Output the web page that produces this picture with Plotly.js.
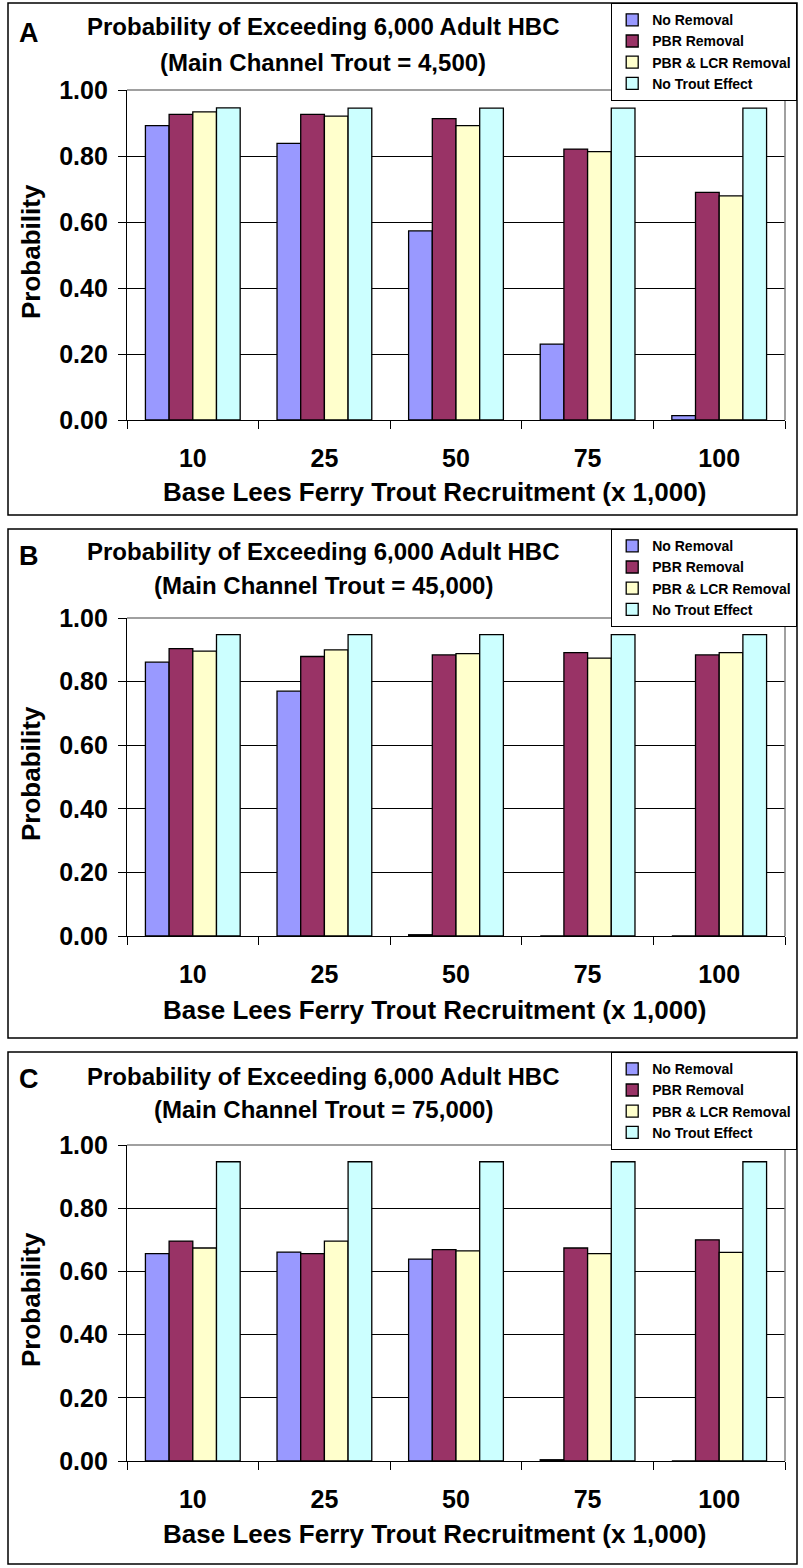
<!DOCTYPE html>
<html>
<head>
<meta charset="utf-8">
<script src="https://cdn.plot.ly/plotly-3.0.1.min.js"></script>
<style>
  html, body { margin: 0; padding: 0; background: #ffffff; }
  #chart { width: 803px; height: 1568px; }
</style>
</head>
<body>
<div id="chart"></div>
<script>
// ---------------- DATA ----------------
const categories = ['10', '25', '50', '75', '100'];
const seriesNames = ['No Removal', 'PBR Removal', 'PBR & LCR Removal', 'No Trout Effect'];
const panelLetters = ['A', 'B', 'C'];
const titleLine1 = 'Probability of Exceeding 6,000 Adult HBC';
const titleLine2 = ['(Main Channel Trout = 4,500)', '(Main Channel Trout = 45,000)', '(Main Channel Trout = 75,000)'];
const xTitle = 'Base Lees Ferry Trout Recruitment (x 1,000)';
const yTitle = 'Probability';
const yTickVals = [0, 0.2, 0.4, 0.6, 0.8, 1.0];

// Panel A (Main Channel Trout = 4,500)
const aNoRemoval = [0.892, 0.838, 0.573, 0.230, 0.013];
const aPBR       = [0.926, 0.926, 0.913, 0.821, 0.690];
const aPBRLCR    = [0.934, 0.921, 0.892, 0.813, 0.679];
const aNoTrout   = [0.946, 0.945, 0.945, 0.945, 0.945];

// Panel B (Main Channel Trout = 45,000)
const bNoRemoval = [0.861, 0.770, 0.004, 0.000, 0.000];
const bPBR       = [0.904, 0.879, 0.884, 0.891, 0.884];
const bPBRLCR    = [0.896, 0.900, 0.888, 0.874, 0.891];
const bNoTrout   = [0.948, 0.948, 0.948, 0.948, 0.948];

// Panel C (Main Channel Trout = 75,000)
const cNoRemoval = [0.656, 0.661, 0.639, 0.004, 0.000];
const cPBR       = [0.696, 0.656, 0.669, 0.674, 0.700];
const cPBRLCR    = [0.674, 0.696, 0.665, 0.656, 0.660];
const cNoTrout   = [0.947, 0.947, 0.947, 0.947, 0.947];

const panelData = [
  [aNoRemoval, aPBR, aPBRLCR, aNoTrout],
  [bNoRemoval, bPBR, bPBRLCR, bNoTrout],
  [cNoRemoval, cPBR, cPBRLCR, cNoTrout]
];

// ---------------- STYLE / LAYOUT ----------------
const W = 803, H = 1568;
const FONT = 'Liberation Sans, Arial, sans-serif';
const seriesColors = ['#9999FF', '#993366', '#FFFFCC', '#CCFFFF'];
const px = v => v / W;
const py = v => 1 - v / H;

// pixel geometry of each panel
const panels = [
  { box: [8, 3, 797, 515],     plot: [127, 90, 785, 420],    letterY: 33,   t1: 27,   t2: 62,   xt: 492,  legTop: 3 },
  { box: [8, 529, 797, 1038],  plot: [127, 618, 785, 936],   letterY: 556,  t1: 551,  t2: 585,  xt: 1010, legTop: 529 },
  { box: [8, 1052, 797, 1564], plot: [127, 1145, 785, 1461], letterY: 1079, t1: 1076, t2: 1109, xt: 1534, legTop: 1052 }
];

const traces = [];
const layout = {
  width: W, height: H,
  margin: { l: 0, r: 0, t: 0, b: 0, pad: 0 },
  paper_bgcolor: '#ffffff',
  plot_bgcolor: '#ffffff',
  barmode: 'group',
  bargap: 0.28,
  bargroupgap: 0,
  font: { family: FONT, color: '#000000', weight: 'bold' },
  shapes: [],
  annotations: []
};

panels.forEach((p, i) => {
  const sfx = i === 0 ? '' : String(i + 1);
  const legName = 'legend' + sfx;
  panelData[i].forEach((vals, s) => {
    traces.push({
      type: 'bar',
      x: categories,
      y: vals,
      name: seriesNames[s],
      xaxis: 'x' + sfx,
      yaxis: 'y' + sfx,
      legend: legName,
      marker: { color: seriesColors[s], line: { color: '#000000', width: 1.3 } },
      hoverinfo: 'x+y+name'
    });
  });

  layout['xaxis' + sfx] = {
    domain: [px(p.plot[0]), px(p.plot[2])],
    anchor: 'y' + sfx,
    type: 'category',
    showline: true, linecolor: '#000000', linewidth: 1.2,
    ticks: 'outside', tickson: 'boundaries', ticklen: 8, tickcolor: '#000000', tickwidth: 1,
    tickfont: { family: FONT, size: 25, color: '#000000', weight: 'bold' },
    ticklabelstandoff: 16,
    showgrid: false, zeroline: false, fixedrange: true
  };
  layout['yaxis' + sfx] = {
    domain: [py(p.plot[3]), py(p.plot[1])],
    anchor: 'x' + sfx,
    range: [0, 1],
    tickvals: yTickVals,
    tickformat: '.2f',
    showline: true, linecolor: '#000000', linewidth: 1.2,
    ticks: 'outside', ticklen: 8, tickcolor: '#000000', tickwidth: 1,
    tickfont: { family: FONT, size: 25, color: '#000000', weight: 'bold' },
    ticklabelstandoff: 5,
    showgrid: true, gridcolor: '#000000', gridwidth: 1,
    zeroline: false, fixedrange: true
  };

  layout[legName] = {
    x: px(797), y: py(p.legTop), xanchor: 'right', yanchor: 'top',
    xref: 'paper', yref: 'paper',
    bgcolor: '#ffffff', bordercolor: '#000000', borderwidth: 1.2,
    font: { family: FONT, size: 14, color: '#000000', weight: 'bold' },
    itemwidth: 30, tracegroupgap: 0, traceorder: 'normal'
  };

  // panel border
  layout.shapes.push({
    type: 'rect', xref: 'paper', yref: 'paper', layer: 'below',
    x0: px(p.box[0]), x1: px(p.box[2]), y0: py(p.box[3]), y1: py(p.box[1]),
    line: { color: '#000000', width: 1.5 }, fillcolor: 'rgba(0,0,0,0)'
  });
  // gray plot-area border (top and right)
  layout.shapes.push({
    type: 'line', xref: 'paper', yref: 'paper', layer: 'above',
    x0: px(p.plot[0]), x1: px(p.plot[2]), y0: py(p.plot[1]), y1: py(p.plot[1]),
    line: { color: '#808080', width: 1.5 }
  });
  layout.shapes.push({
    type: 'line', xref: 'paper', yref: 'paper', layer: 'above',
    x0: px(p.plot[2]), x1: px(p.plot[2]), y0: py(p.plot[3]), y1: py(p.plot[1]),
    line: { color: '#808080', width: 1.5 }
  });

  const ann = (text, x, y, size, extra) => Object.assign({
    text: text, xref: 'paper', yref: 'paper', x: px(x), y: py(y),
    xanchor: 'center', yanchor: 'middle', showarrow: false,
    font: { family: FONT, size: size, color: '#000000', weight: 'bold' }
  }, extra || {});

  layout.annotations.push(ann(panelLetters[i], 29, p.letterY, 27));
  layout.annotations.push(ann(titleLine1, 323, p.t1, 24));
  layout.annotations.push(ann(titleLine2[i], 323, p.t2, 24));
  layout.annotations.push(ann(xTitle, 434, p.xt, 26));
  layout.annotations.push(ann(yTitle, 31, (p.plot[1] + p.plot[3]) / 2 - 3, 26, { textangle: -90 }));
});

Plotly.newPlot('chart', traces, layout, { staticPlot: true, displayModeBar: false });
</script>
</body>
</html>
